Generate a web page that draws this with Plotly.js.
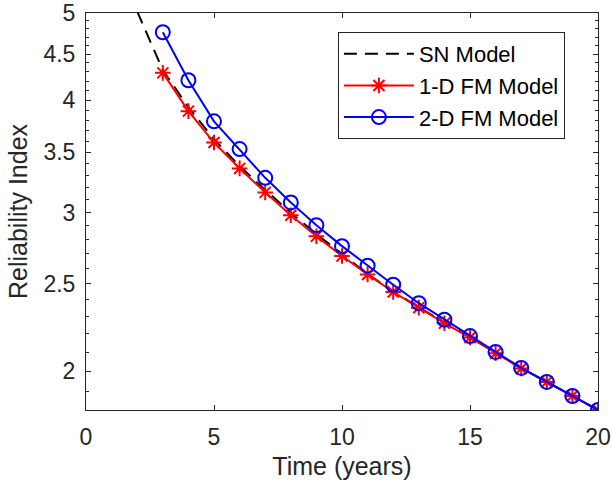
<!DOCTYPE html>
<html>
<head>
<meta charset="utf-8">
<script src="https://cdn.plot.ly/plotly-3.0.1.min.js"></script>
<style>html,body{margin:0;padding:0;background:#fff;}</style>
</head>
<body>
<div id="chart" style="width:612px;height:488px;"></div>
<script>
// Data
const snYears = [2, 3, 4, 5, 6, 7, 8, 9, 10, 11, 12, 13, 14, 15, 16, 17, 18, 19, 20];
const snModel = [5.02, 4.32, 3.93, 3.62, 3.38, 3.18, 3.00, 2.84, 2.70, 2.565, 2.452, 2.355, 2.263, 2.181, 2.095, 2.015, 1.946, 1.877, 1.811];

const fmYears = [3, 4, 5, 6, 7, 8, 9, 10, 11, 12, 13, 14, 15, 16, 17, 18, 19, 20];
const fm1D = [4.29, 3.89, 3.59, 3.36, 3.16, 2.98, 2.825, 2.685, 2.562, 2.449, 2.353, 2.261, 2.180, 2.094, 2.014, 1.946, 1.877, 1.811];
const fm2D = [4.76, 4.21, 3.79, 3.53, 3.28, 3.08, 2.905, 2.754, 2.62, 2.495, 2.38, 2.282, 2.188, 2.101, 2.017, 1.946, 1.877, 1.811];

const seriesNames = ["SN Model", "1-D FM Model", "2-D FM Model"];
const xTicks = [0, 5, 10, 15, 20];
const yTicks = [2, 2.5, 3, 3.5, 4, 4.5, 5];
const yMinorTicks = [1.9,2.1,2.2,2.3,2.4,2.6,2.7,2.8,2.9,3.1,3.2,3.3,3.4,3.6,3.7,3.8,3.9,4.1,4.2,4.3,4.4,4.6,4.7,4.8,4.9];

const axisColor = "#262626";
const fontFam = "Liberation Sans, Arial, Helvetica, sans-serif";

const traces = [
  {
    x: snYears, y: snModel, name: seriesNames[0], type: "scatter", mode: "lines",
    line: {color: "#000000", width: 2, dash: "13px,8px"}
  },
  {
    x: fmYears, y: fm1D, name: seriesNames[1], type: "scatter", mode: "lines+markers",
    line: {color: "#ff0000", width: 2},
    marker: {symbol: "asterisk-open", size: 13, color: "#ff0000", line: {color: "#ff0000", width: 2}}
  },
  {
    x: fmYears, y: fm2D, name: seriesNames[2], type: "scatter", mode: "lines+markers",
    line: {color: "#0000ff", width: 2},
    marker: {symbol: "circle-open", size: 14, color: "#0000ff", line: {color: "#0000ff", width: 2}}
  }
];

const layout = {
  width: 612, height: 488,
  margin: {l: 86, r: 14, t: 13, b: 78},
  paper_bgcolor: "#ffffff", plot_bgcolor: "#ffffff",
  font: {family: fontFam, color: axisColor, size: 23},
  showlegend: true,
  legend: {
    x: 0.492, y: 0.952, xanchor: "left", yanchor: "top",
    bgcolor: "#ffffff", bordercolor: axisColor, borderwidth: 1,
    font: {family: fontFam, size: 22, color: "#000000"},
    itemwidth: 70
  },
  xaxis: {
    range: [0, 20], tickmode: "array", tickvals: xTicks, ticktext: xTicks.map(String),
    ticks: "inside", ticklen: 5, tickcolor: axisColor, tickwidth: 1,
    showline: true, linecolor: axisColor, linewidth: 1, mirror: "allticks",
    showgrid: false, zeroline: false, ticklabelstandoff: 6,
    tickfont: {size: 23, color: axisColor},
    title: {text: "Time (years)", font: {size: 25, color: axisColor}, standoff: 8}
  },
  yaxis: {
    type: "log", range: [Math.log10(1.811), Math.log10(5)],
    tickmode: "array", tickvals: yTicks, ticktext: yTicks.map(String),
    ticks: "inside", ticklen: 5, tickcolor: axisColor, tickwidth: 1,
    minor: {tickmode: "array", tickvals: yMinorTicks, ticks: "inside", ticklen: 3, tickcolor: axisColor, showgrid: false},
    showline: true, linecolor: axisColor, linewidth: 1, mirror: "allticks",
    showgrid: false, zeroline: false, ticklabelstandoff: 5,
    tickfont: {size: 23, color: axisColor},
    title: {text: "Reliability Index", font: {size: 25, color: axisColor}, standoff: 8}
  }
};

Plotly.newPlot("chart", traces, layout, {displayModeBar: false, staticPlot: true});
</script>
</body>
</html>
